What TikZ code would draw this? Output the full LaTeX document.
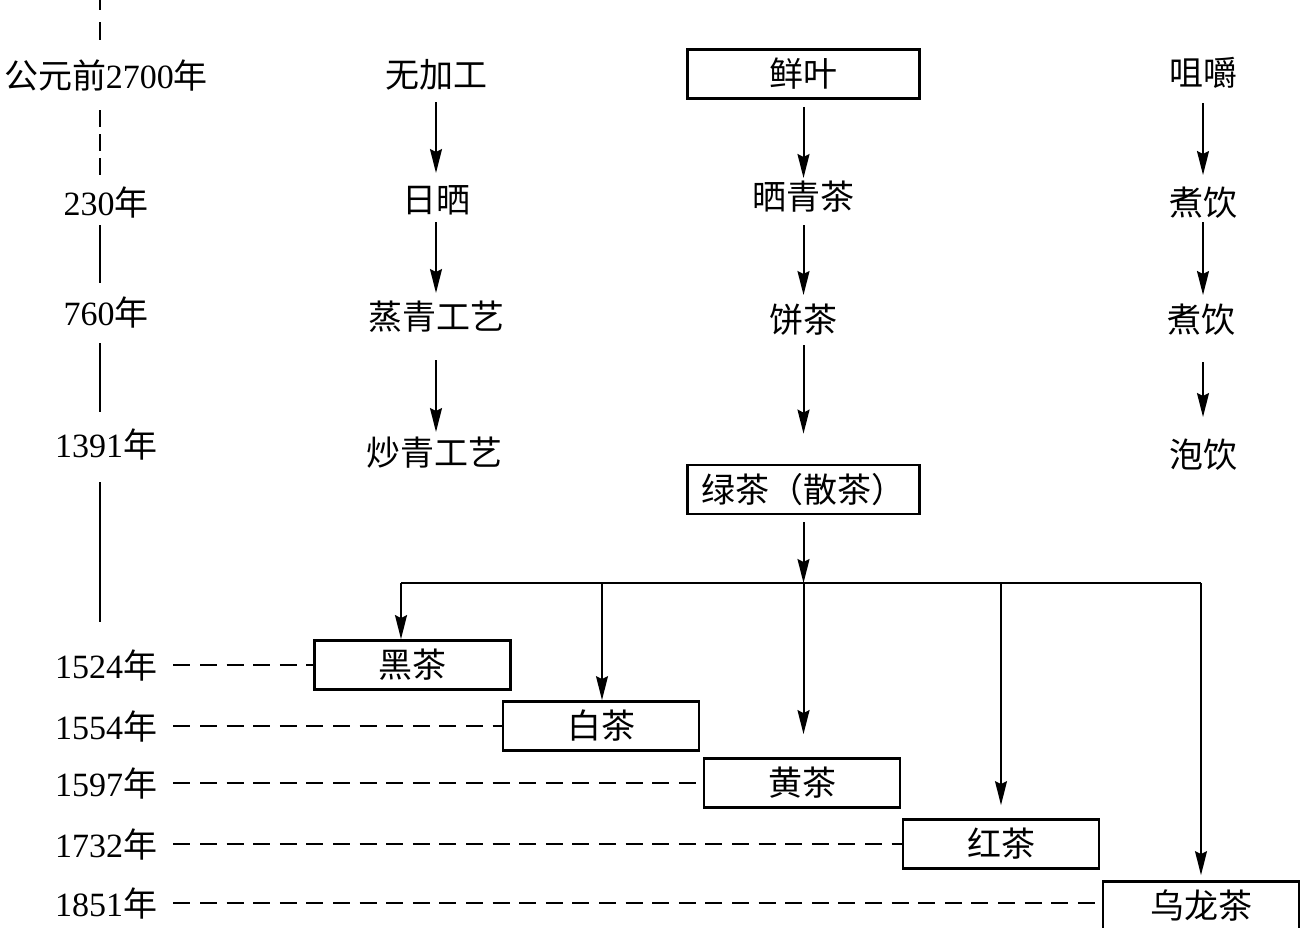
\documentclass[tikz,border=0pt]{standalone}
\usepackage{fontspec}
\setmainfont{Liberation Serif}
\newfontfamily\cjk{Noto Sans CJK SC}
\usetikzlibrary{arrows.meta,calc}
\newcommand\yearch{{\cjk 年}}
\begin{document}
\begin{tikzpicture}[x=0.5pt,y=-0.5pt,
  txt/.style={inner sep=0pt, font=\fontsize{17}{19}\selectfont\cjk},
  yr/.style={inner sep=0pt, font=\fontsize{17}{19}\selectfont},
  bigbox/.style={draw, line width=1.4pt, inner sep=0pt, minimum width=116pt, minimum height=24.5pt, font=\fontsize{17}{19}\selectfont\cjk},
  teabox/.style={draw, line width=1.4pt, inner sep=0pt, minimum width=98pt, minimum height=24.5pt, font=\fontsize{17}{19}\selectfont\cjk},
  arr/.style={line width=1pt, -{Stealth[length=12pt,width=6pt,inset=1.5pt]}},
  tarr/.style={line width=0.75pt, -{Stealth[length=12pt,width=6pt,inset=1.5pt]}},
  tline/.style={line width=1pt},
  hdash/.style={line width=1pt, dash pattern=on 8.5pt off 4.8pt},
]
\useasboundingbox (0,0) rectangle (1301,927);

% timeline labels
\node[yr] (y2700) at (106,75) {{\cjk 公元前}2700\yearch};
\node[yr] (y230) at (106,203) {230\yearch};
\node[yr] (y760) at (106,313) {760\yearch};
\node[yr] (y1391) at (106,445) {1391\yearch};
\node[yr] (y1524) at (106,665) {1524\yearch};
\node[yr] (y1554) at (106,726) {1554\yearch};
\node[yr] (y1597) at (106,783) {1597\yearch};
\node[yr] (y1732) at (106,844) {1732\yearch};
\node[yr] (y1851) at (106,903) {1851\yearch};

% timeline line
\draw[tline, dash pattern=on 9pt off 6pt] ($(y2700)+(-6,-83)$) -- ($(y2700)+(-6,-33)$);
\draw[tline, dash pattern=on 8.5pt off 3.5pt] ($(y2700)+(-6,35)$) -- ($(y230)+(-6,-28)$);
\draw[tline] ($(y230)+(-6,22)$) -- ($(y760)+(-6,-30)$);
\draw[tline] ($(y760)+(-6,30)$) -- ($(y1391)+(-6,-33)$);
\draw[tline] ($(y1391)+(-6,37)$) -- ($(y1391)+(-6,177)$);

% column 1
\node[txt] (a1) at (436,75) {无加工};
\node[txt] (a2) at (436,200) {日晒};
\node[txt] (a3) at (436,317) {蒸青工艺};
\node[txt] (a4) at (434,453) {炒青工艺};
\draw[arr] ($(a1)+(0,27)$) -- ($(a2)+(0,-27)$);
\draw[arr] ($(a2)+(0,22)$) -- ($(a3)+(0,-24)$);
\draw[arr] ($(a3)+(0,43)$) -- ($(a3)+(0,115)$);

% column 2
\node[bigbox] (xian) at (803.5,74) {鲜叶};
\node[txt] (b2) at (803.5,197) {晒青茶};
\node[txt] (b3) at (803.5,320) {饼茶};
\node[bigbox] (lv) at (803.5,489.5) {绿茶（散茶）};
\draw[arr] ($(xian.south)+(0,7)$) -- ($(b2)+(0,-19)$);
\draw[arr] ($(b2)+(0,28)$) -- ($(b3)+(0,-25)$);
\draw[arr] ($(b3)+(0,25)$) -- ($(lv.north)+(0,-30)$);

% column 3
\node[txt] (c1) at (1203,73) {咀嚼};
\node[txt] (c2) at (1203,203) {煮饮};
\node[txt] (c3) at (1201,320) {煮饮};
\node[txt] (c4) at (1203,455) {泡饮};
\draw[arr] ($(c1)+(0,30)$) -- ($(c2)+(0,-28)$);
\draw[arr] ($(c2)+(0,19)$) -- ($(c2)+(0,92)$);
\draw[arr] ($(c2)+(0,159)$) -- ($(c4)+(0,-38)$);

% tea boxes
\node[teabox] (hei) at (412.5,665) {黑茶};
\node[teabox] (bai) at (601,726) {白茶};
\node[teabox] (huang) at (802,783) {黄茶};
\node[teabox] (hong) at (1001,844) {红茶};
\node[teabox] (wl) at (1201,906) {乌龙茶};

% branch
\coordinate (br) at (803.5,583);
\coordinate (bl) at (401,583);
\coordinate (bw) at (602,583);
\coordinate (be) at (1001,583);
\coordinate (bf) at (1201,583);
\draw[arr] ($(lv.south)+(0,7)$) -- (br);
\draw[line width=0.9pt] (bl) -- (bf);
\draw[arr] (bl) -- (bl |- hei.north);
\draw[tarr] (bw) -- (bw |- bai.north);
\draw[arr] (br) -- ($(br |- huang.north)+(0,-23)$);
\draw[tarr] (be) -- ($(hong.north)+(0,-13)$);
\draw[tarr] (bf) -- ($(wl.north)+(0,-5)$);

% dashed year connectors
\draw[hdash] ($(y1524.east)+(16,0)$) -- (hei.west);
\draw[hdash] ($(y1554.east)+(16,0)$) -- (bai.west);
\draw[hdash] ($(y1597.east)+(16,0)$) -- (huang.west);
\draw[hdash] ($(y1732.east)+(16,0)$) -- (hong.west);
\draw[hdash] ($(y1851.east)+(16,0)$) -- (wl.west |- y1851.east);
\end{tikzpicture}
\end{document}
